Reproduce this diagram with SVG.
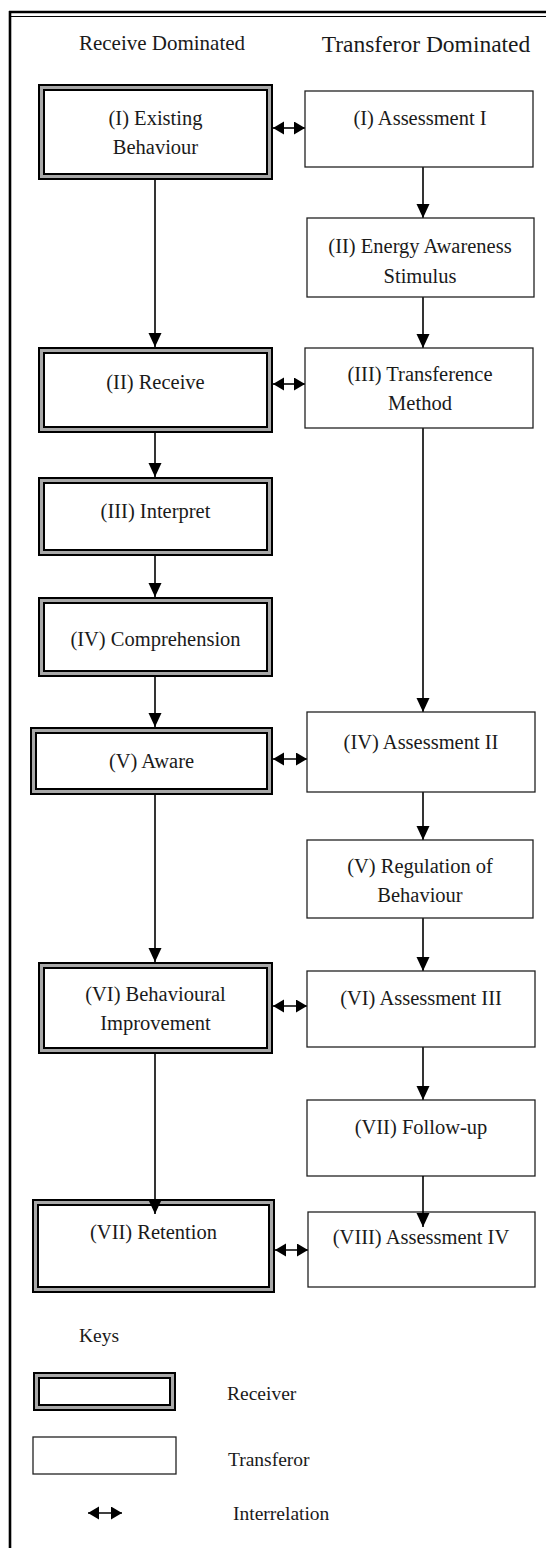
<svg xmlns="http://www.w3.org/2000/svg" width="546" height="1548" viewBox="0 0 546 1548">
<style>
text{font-family:"Liberation Serif","Times New Roman",serif;fill:#1a1a1a;}
.t{font-size:20.5px;text-anchor:middle;}
.h1{font-size:21px;text-anchor:middle;}
.h2{font-size:23.5px;text-anchor:middle;}
.k{font-size:19.5px;}
.ro{fill:#fff;stroke:#000;stroke-width:2;}
.rg{fill:none;stroke:#a8a8a8;stroke-width:3;}
.ri{fill:none;stroke:#000;stroke-width:2;}
.tb{fill:#fff;stroke:#222;stroke-width:1.3;}
.c{stroke:#000;stroke-width:1.6;fill:none;}
.fr{stroke:#000;fill:none;}
</style>
<defs>
<marker id="dn" markerUnits="userSpaceOnUse" markerWidth="14" markerHeight="16" refX="14" refY="6.5" orient="auto"><path d="M0,0 L14,6.5 L0,13 z" fill="#000"/></marker>
<marker id="hh" markerUnits="userSpaceOnUse" markerWidth="12" markerHeight="14" refX="11" refY="6.5" orient="auto-start-reverse"><path d="M0,0 L11,6.5 L0,13 z" fill="#000"/></marker>
</defs>
<rect width="546" height="1548" fill="#fff"/>
<g id="frame">
<line class="fr" x1="9" y1="12" x2="546" y2="12" stroke-width="2.6"/>
<line class="fr" x1="11" y1="16.5" x2="546" y2="16.5" stroke-width="1"/>
<line class="fr" x1="10" y1="11" x2="10" y2="1548" stroke-width="2.6"/>
</g>
<g id="headers">
<text class="h1" x="162" y="50">Receive Dominated</text>
<text class="h2" x="426" y="52">Transferor Dominated</text>
</g>
<g id="connectors">
<line class="c" x1="155" y1="180" x2="155" y2="347" marker-end="url(#dn)"/>
<line class="c" x1="155" y1="433" x2="155" y2="477" marker-end="url(#dn)"/>
<line class="c" x1="155" y1="556" x2="155" y2="597" marker-end="url(#dn)"/>
<line class="c" x1="155" y1="677" x2="155" y2="727" marker-end="url(#dn)"/>
<line class="c" x1="155" y1="795" x2="155" y2="962" marker-end="url(#dn)"/>
<line class="c" x1="423" y1="167" x2="423" y2="218" marker-end="url(#dn)"/>
<line class="c" x1="423" y1="297" x2="423" y2="348" marker-end="url(#dn)"/>
<line class="c" x1="423" y1="428" x2="423" y2="712" marker-end="url(#dn)"/>
<line class="c" x1="423" y1="792" x2="423" y2="840" marker-end="url(#dn)"/>
<line class="c" x1="423" y1="918" x2="423" y2="971" marker-end="url(#dn)"/>
<line class="c" x1="423" y1="1047" x2="423" y2="1100" marker-end="url(#dn)"/>
<line class="c" x1="273" y1="128" x2="305" y2="128" marker-start="url(#hh)" marker-end="url(#hh)"/>
<line class="c" x1="273" y1="384" x2="305" y2="384" marker-start="url(#hh)" marker-end="url(#hh)"/>
<line class="c" x1="273" y1="759" x2="307" y2="759" marker-start="url(#hh)" marker-end="url(#hh)"/>
<line class="c" x1="273" y1="1006" x2="307" y2="1006" marker-start="url(#hh)" marker-end="url(#hh)"/>
<line class="c" x1="275" y1="1250" x2="308" y2="1250" marker-start="url(#hh)" marker-end="url(#hh)"/>
</g>
<g id="r1"><rect class="ro" x="39" y="85" width="233" height="94"/><rect class="rg" x="41.5" y="87.5" width="228" height="89"/><rect class="ri" x="44" y="90" width="223" height="84"/>
<text class="t" x="155.5" y="125">(I) Existing</text><text class="t" x="155.5" y="154">Behaviour</text></g>
<g id="t1"><rect class="tb" x="305" y="91" width="228" height="76"/><text class="t" x="420" y="125">(I) Assessment I</text></g>
<g id="t2"><rect class="tb" x="307" y="218" width="227" height="79"/><text class="t" x="420" y="253">(II) Energy Awareness</text><text class="t" x="420" y="283">Stimulus</text></g>
<g id="t3"><rect class="tb" x="305" y="348" width="228" height="80"/><text class="t" x="420" y="381">(III) Transference</text><text class="t" x="420" y="410">Method</text></g>
<g id="r2"><rect class="ro" x="39" y="348" width="233" height="84"/><rect class="rg" x="41.5" y="350.5" width="228" height="79"/><rect class="ri" x="44" y="353" width="223" height="74"/>
<text class="t" x="155.5" y="389">(II) Receive</text></g>
<g id="r3"><rect class="ro" x="39" y="478" width="233" height="77"/><rect class="rg" x="41.5" y="480.5" width="228" height="72"/><rect class="ri" x="44" y="483" width="223" height="67"/>
<text class="t" x="155.5" y="518">(III) Interpret</text></g>
<g id="r4"><rect class="ro" x="39" y="598" width="233" height="78"/><rect class="rg" x="41.5" y="600.5" width="228" height="73"/><rect class="ri" x="44" y="603" width="223" height="68"/>
<text class="t" x="155.5" y="646">(IV) Comprehension</text></g>
<g id="r5"><rect class="ro" x="31" y="728" width="241" height="66"/><rect class="rg" x="33.5" y="730.5" width="236" height="61"/><rect class="ri" x="36" y="733" width="231" height="56"/>
<text class="t" x="151.5" y="768">(V) Aware</text></g>
<g id="t4"><rect class="tb" x="307" y="712" width="228" height="80"/><text class="t" x="421" y="749">(IV) Assessment II</text></g>
<g id="t5"><rect class="tb" x="307" y="840" width="226" height="78"/><text class="t" x="420" y="873">(V) Regulation of</text><text class="t" x="420" y="902">Behaviour</text></g>
<g id="r6"><rect class="ro" x="39" y="963" width="233" height="90"/><rect class="rg" x="41.5" y="965.5" width="228" height="85"/><rect class="ri" x="44" y="968" width="223" height="80"/>
<text class="t" x="155.5" y="1001">(VI) Behavioural</text><text class="t" x="155.5" y="1030">Improvement</text></g>
<g id="t6"><rect class="tb" x="307" y="971" width="228" height="76"/><text class="t" x="421" y="1005">(VI) Assessment III</text></g>
<g id="t7"><rect class="tb" x="307" y="1100" width="228" height="76"/><text class="t" x="421" y="1134">(VII) Follow-up</text></g>
<g id="r7"><rect class="ro" x="33" y="1200" width="241" height="92"/><rect class="rg" x="35.5" y="1202.5" width="236" height="87"/><rect class="ri" x="38" y="1205" width="231" height="82"/>
<text class="t" x="153.5" y="1239">(VII) Retention</text></g>
<g id="t8"><rect class="tb" x="308" y="1212" width="227" height="75"/><text class="t" x="421" y="1244">(VIII) Assessment IV</text></g>
<g id="connectors-over">
<line class="c" x1="155" y1="1054" x2="155" y2="1214" marker-end="url(#dn)"/>
<line class="c" x1="423" y1="1176" x2="423" y2="1227" marker-end="url(#dn)"/>
</g>
<g id="keys">
<text class="k" x="79" y="1342">Keys</text>
<g id="key-receiver"><rect class="ro" x="34" y="1373" width="141" height="37"/><rect class="rg" x="36.5" y="1375.5" width="136" height="32"/><rect class="ri" x="39" y="1378" width="131" height="27"/>
<text class="k" x="227" y="1400">Receiver</text></g>
<g id="key-transferor"><rect class="tb" x="33" y="1437" width="143" height="37"/><text class="k" x="228" y="1466">Transferor</text></g>
<g id="key-interrelation"><line class="c" x1="88" y1="1513" x2="122" y2="1513" marker-start="url(#hh)" marker-end="url(#hh)"/><text class="k" x="233" y="1520">Interrelation</text></g>
</g>
</svg>
